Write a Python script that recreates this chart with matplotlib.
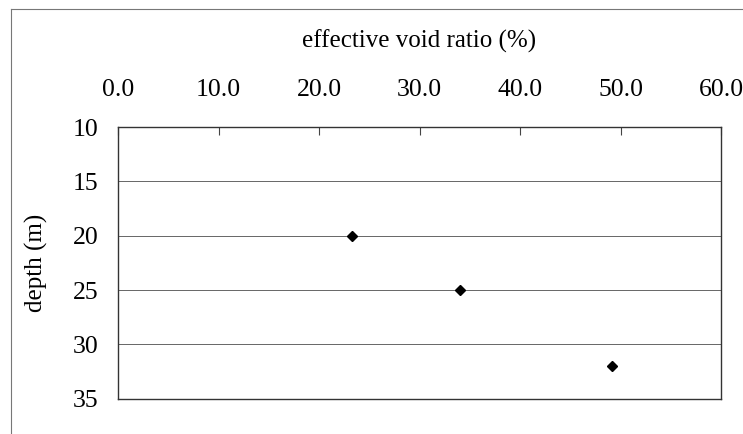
import matplotlib
matplotlib.use("Agg")
import matplotlib.pyplot as plt
from matplotlib.lines import Line2D

void_ratio = [23.3, 34.0, 49.2]
depth = [20, 25, 32]
x_ticks = [0, 10, 20, 30, 40, 50, 60]
x_tick_labels = ["0.0", "10.0", "20.0", "30.0", "40.0", "50.0", "60.0"]
y_ticks = [10, 15, 20, 25, 30, 35]
y_tick_labels = ["10", "15", "20", "25", "30", "35"]

plt.rcParams['font.family'] = ['Liberation Serif', 'DejaVu Serif']

W, H = 743, 434
fig = plt.figure(figsize=(W / 100, H / 100), dpi=100)
ax = fig.add_axes([118 / W, 1 - 398.7 / H, (721 - 118) / W, (398.7 - 127) / H])

ax.plot(void_ratio, depth, linestyle='none', marker='D', markersize=5.5,
        color='black', zorder=3)

ax.set_xlim(0, 60)
ax.set_ylim(35, 10)
ax.xaxis.tick_top()
ax.xaxis.set_label_position('top')
ax.set_xticks(x_ticks)
ax.set_xticklabels(x_tick_labels)
ax.set_yticks(y_ticks)
ax.set_yticklabels(y_tick_labels)
ax.tick_params(axis='x', direction='in', length=6, width=0.8, color='#444',
               pad=19, labelsize=18.5)
ax.tick_params(axis='y', length=0, pad=14, labelsize=18.5)

for v in [15, 20, 25, 30]:
    ax.axhline(v, color='#666666', linewidth=0.7, zorder=1)

for s in ax.spines.values():
    s.set_color('#333333')
    s.set_linewidth(1.0)

ax.set_xlabel('effective void ratio (%)', fontsize=18, labelpad=22)
ax.set_ylabel('depth (m)', fontsize=18, labelpad=18)

fig.add_artist(Line2D([11 / W, 11 / W], [0, 1 - 9 / H], transform=fig.transFigure,
                      color='#777777', linewidth=0.8))
fig.add_artist(Line2D([11 / W, 1], [1 - 9 / H, 1 - 9 / H], transform=fig.transFigure,
                      color='#777777', linewidth=0.8))

fig.savefig('out.png', dpi=100)
